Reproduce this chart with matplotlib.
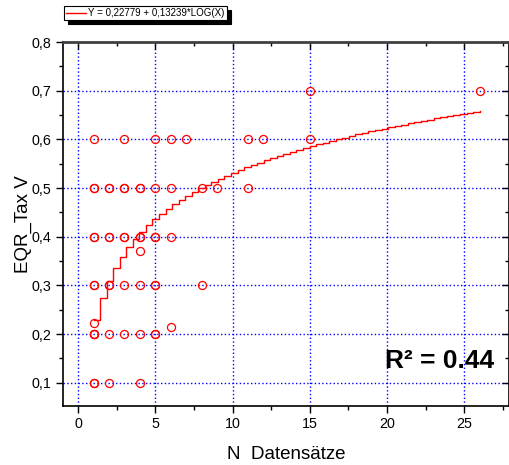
import numpy as np
import matplotlib
matplotlib.use("Agg")
import matplotlib.pyplot as plt
from matplotlib.ticker import MultipleLocator, FuncFormatter

plt.rcParams['font.family'] = ['Liberation Sans', 'DejaVu Sans']

# Observations: number of data sets vs. EQR_Tax value (repeats are duplicate records)
n_sets = [15, 26,
          1, 3, 5, 6, 7, 11, 12, 15,
          1, 1, 2, 2, 3, 3, 4, 4, 5, 6, 8, 9, 11,
          1, 1, 2, 2, 3, 3, 4, 4, 5, 5, 6, 4,
          1, 1, 2, 2, 3, 4, 5, 5, 8,
          1, 1, 1, 2, 3, 4, 5, 5, 1, 6,
          1, 1, 2, 4]
eqr_tax = [0.7, 0.7,
           0.6, 0.6, 0.6, 0.6, 0.6, 0.6, 0.6, 0.6,
           0.5, 0.5, 0.5, 0.5, 0.5, 0.5, 0.5, 0.5, 0.5, 0.5, 0.5, 0.5, 0.5,
           0.4, 0.4, 0.4, 0.4, 0.4, 0.4, 0.4, 0.4, 0.4, 0.4, 0.4, 0.37,
           0.3, 0.3, 0.3, 0.3, 0.3, 0.3, 0.3, 0.3, 0.3,
           0.2, 0.2, 0.2, 0.2, 0.2, 0.2, 0.2, 0.2, 0.222, 0.214,
           0.1, 0.1, 0.1, 0.1]

# Logarithmic fit Y = a + b*ln(X)
fit_a = 0.22779
fit_b = 0.13239
fit_range = (1, 26)
fit_points = 60
fit_label = "Y = 0,22779 + 0,13239*LOG(X)"
r2_text = "R² = 0.44"

fig = plt.figure(figsize=(5.09, 4.65), dpi=100)
ax = fig.add_axes([62.7 / 509, 1 - 406.3 / 465, 446.3 / 509, (406.3 - 42) / 465])

xf = np.linspace(fit_range[0], fit_range[1], fit_points)
yf = fit_a + fit_b * np.log(xf)
line, = ax.plot(xf, yf, color='red', lw=1.0, drawstyle='steps-post', zorder=3,
                label=fit_label)

ax.plot(n_sets, eqr_tax, linestyle='none', marker='o', markersize=5.8,
        markerfacecolor='none', markeredgecolor='red', markeredgewidth=0.9,
        zorder=4)

ax.set_xlim(-1, 27.9)
ax.set_ylim(0.0515, 0.8)

ax.xaxis.set_major_locator(MultipleLocator(5))
ax.xaxis.set_minor_locator(MultipleLocator(2.5))
ax.yaxis.set_major_locator(MultipleLocator(0.1))
ax.yaxis.set_minor_locator(MultipleLocator(0.05))
ax.yaxis.set_major_formatter(FuncFormatter(lambda v, p: f"{v:.1f}".replace('.', ',')))

ax.grid(True, which='major', color='#0000FF', linestyle=(0, (1, 1.7)), lw=1.0, zorder=1)
ax.set_axisbelow(True)

ax.tick_params(axis='both', which='major', direction='out', length=5, width=1,
               labelsize=10.3, colors='black', pad=3)
ax.tick_params(axis='both', which='minor', direction='out', length=3, width=1)
ax.tick_params(top=True, right=True, which='both')

# ticks on the top and right edges point inwards
for t in ax.xaxis.get_major_ticks() + ax.xaxis.get_minor_ticks():
    t.tick2line.set_marker(3)
for t in ax.yaxis.get_major_ticks() + ax.yaxis.get_minor_ticks():
    t.tick2line.set_marker(0)

for side in ['left', 'bottom', 'right']:
    ax.spines[side].set_linewidth(1.2)
    ax.spines[side].set_color('black')
ax.spines['top'].set_linewidth(2.0)
ax.spines['top'].set_color('#404040')

ax.set_xlabel("N  Datensätze", fontsize=13.5, labelpad=10.5)
ax.set_ylabel("EQR_Tax V", fontsize=13.5, labelpad=-0.5)

ax.text(23.4, 0.13, r2_text, fontsize=19, fontweight='bold', ha='center',
        va='baseline', zorder=5)

leg = fig.legend(handles=[line], loc='upper left',
                 bbox_to_anchor=(64 / 509, 1 - 6 / 465), fontsize=7.0,
                 frameon=True, fancybox=False, borderpad=0.2, borderaxespad=0,
                 handlelength=2.1, handletextpad=0.2,
                 shadow={'color': 'black', 'alpha': 1.0, 'ox': 3, 'oy': -3})
leg.get_frame().set_edgecolor('black')
leg.get_frame().set_linewidth(0.8)

fig.savefig("out.png", dpi=100)
